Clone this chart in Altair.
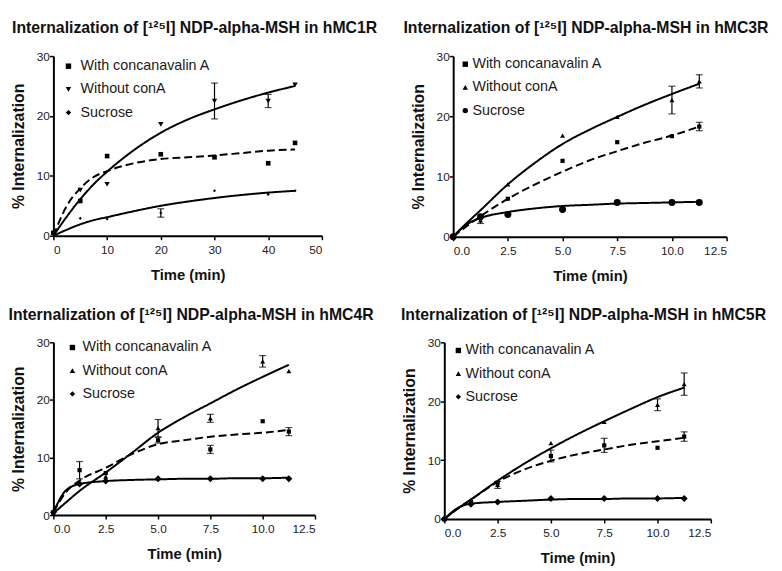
import altair as alt
import pandas as pd

SERIES = ["With concanavalin A", "Without conA", "Sucrose"]

# ---------------- Panel 1 : hMC1R ----------------
p1_title = "Internalization of [¹²⁵I] NDP-alpha-MSH in hMC1R"
p1_t = [0, 5, 10, 20, 30, 40, 45]
p1_con = [0.5, 5.8, 13.3, 13.6, 13.1, 12.1, 15.5]
p1_wo = [0.3, 7.6, 8.6, 18.6, 22.5, 22.5, 25.2]
p1_suc = [0.2, 2.9, 2.8, 3.8, 7.5, 6.9, 7.5]
p1_con_err = [0, 0, 0, 0, 0, 0, 0]
p1_wo_err = [0, 0, 0, 0, 3.0, 1.1, 0]
p1_suc_err = [0, 0, 0, 0.7, 0, 0, 0]
p1_cx = [0, 2.5, 5, 7.5, 10, 15, 20, 25, 30, 35, 40, 45]
p1_ccon = [0, 5.0, 7.9, 9.8, 10.8, 12.1, 12.8, 13.1, 13.4, 13.8, 14.2, 14.4]
p1_cwo = [0, 3.2, 6.1, 8.6, 10.7, 14.3, 17.2, 19.4, 21.1, 22.6, 23.9, 25.0]
p1_csuc = [0, 1.0, 1.9, 2.6, 3.1, 4.1, 5.0, 5.7, 6.3, 6.8, 7.2, 7.5]

# ---------------- Panel 2 : hMC3R ----------------
p2_title = "Internalization of [¹²⁵I] NDP-alpha-MSH in hMC3R"
p2_t = [0, 1.25, 2.5, 5, 7.5, 10, 11.25]
p2_con = [0, 3.3, 6.3, 12.6, 15.7, 16.7, 18.3]
p2_wo = [0, 2.7, 8.7, 16.8, 19.9, 22.7, 25.8]
p2_suc = [0, 3.3, 3.7, 4.5, 5.7, 5.7, 5.7]
p2_con_err = [0, 0, 0, 0, 0, 0, 0.7]
p2_wo_err = [0, 0.5, 0, 0, 0, 2.3, 1.1]
p2_suc_err = [0, 0, 0, 0, 0, 0, 0]
p2_cx = [0, 0.6, 1.25, 2.5, 3.75, 5, 6.25, 7.5, 8.75, 10, 11.25]
p2_ccon = [0, 1.7, 3.4, 6.3, 8.7, 10.8, 12.7, 14.2, 15.6, 16.8, 18.3]
p2_cwo = [0, 2.2, 4.4, 8.7, 12.3, 15.4, 17.8, 19.9, 21.9, 23.7, 25.4]
p2_csuc = [0, 2.0, 3.1, 4.1, 4.7, 5.1, 5.3, 5.5, 5.6, 5.7, 5.8]

# ---------------- Panel 3 : hMC4R ----------------
p3_title = "Internalization of [¹²⁵I] NDP-alpha-MSH in hMC4R"
p3_t = [0, 1.25, 2.5, 5, 7.5, 10, 11.25]
p3_con = [0.5, 7.8, 7.3, 13.0, 11.4, 16.3, 14.5]
p3_wo = [0.3, 5.6, 6.7, 15.1, 16.8, 26.7, 25.0]
p3_suc = [0.5, 5.4, 5.9, 6.3, 6.3, 6.3, 6.3]
p3_con_err = [0, 1.5, 0, 0.5, 0.7, 0, 0.7]
p3_wo_err = [0, 0, 0, 1.5, 0.7, 1.0, 0]
p3_suc_err = [0, 0, 0, 0, 0, 0, 0]
p3_cx = [0, 0.6, 1.25, 2.5, 3.75, 5, 6.25, 7.5, 8.75, 10, 11.25]
p3_ccon = [0.5, 4.0, 6.0, 8.2, 10.6, 12.3, 13.0, 13.6, 14.0, 14.3, 14.8]
p3_cwo = [0.3, 2.2, 4.2, 7.4, 10.8, 14.3, 17.0, 19.4, 21.8, 24.0, 26.1]
p3_csuc = [0.5, 4.3, 5.4, 5.9, 6.1, 6.2, 6.3, 6.3, 6.4, 6.4, 6.5]

# ---------------- Panel 4 : hMC5R ----------------
p4_title = "Internalization of [¹²⁵I] NDP-alpha-MSH in hMC5R"
p4_t = [0, 1.25, 2.5, 5, 7.5, 10, 11.25]
p4_con = [0, 2.9, 6.1, 10.7, 12.5, 12.1, 14.0]
p4_wo = [0, 3.3, 5.8, 12.9, 16.5, 19.4, 22.9]
p4_suc = [0, 2.5, 2.9, 3.5, 3.5, 3.5, 3.5]
p4_con_err = [0, 0, 0, 1.0, 1.2, 0, 0.8]
p4_wo_err = [0, 0, 0.6, 0, 0, 1.0, 1.9]
p4_suc_err = [0, 0, 0, 0, 0, 0, 0]
p4_cx = [0, 0.6, 1.25, 2.5, 3.75, 5, 6.25, 7.5, 8.75, 10, 11.25]
p4_ccon = [0, 1.7, 3.3, 6.3, 8.4, 9.9, 11.0, 11.8, 12.6, 13.2, 13.8]
p4_cwo = [0, 1.7, 3.3, 6.5, 9.4, 12.0, 14.4, 16.6, 18.7, 20.7, 22.3]
p4_csuc = [0, 1.8, 2.6, 2.9, 3.1, 3.3, 3.4, 3.4, 3.5, 3.5, 3.6]

Y_TICKS = [0, 10, 20, 30]
X_TICKS_A = [0, 10, 20, 30, 40, 50]
X_TICKS_B = [0, 2.5, 5, 7.5, 10, 12.5]

FONT = "Liberation Sans"


def make_panel(title, t, con, wo, suc, con_err, wo_err, suc_err,
               cx, ccon, cwo, csuc, xmax, xticks, xfmt, shapes, sizes, w, h, tdx, lx, ly, loff):
    rows = []
    for s, vals, errs in zip(SERIES, [con, wo, suc], [con_err, wo_err, suc_err]):
        for ti, v, e in zip(t, vals, errs):
            rows.append({"t": ti, "v": v, "series": s, "lo": v - e, "hi": v + e, "err": e})
    pts = pd.DataFrame(rows)
    err = pts[pts["err"] > 0]

    crow = []
    for s, vals in zip(SERIES, [ccon, cwo, csuc]):
        for xi, v in zip(cx, vals):
            crow.append({"t": xi, "v": v, "curve": s})
    curves = pd.DataFrame(crow)

    xs = alt.Scale(domain=[0, xmax], nice=False, zero=True)
    ys = alt.Scale(domain=[0, 30], nice=False)
    xaxis = alt.Axis(values=xticks, format=xfmt, title="Time (min)")
    yaxis = alt.Axis(values=Y_TICKS, title="% Internalization")

    X = alt.X("t:Q", scale=xs, axis=xaxis)
    Y = alt.Y("v:Q", scale=ys, axis=yaxis)

    lines = alt.Chart(curves).mark_line(color="black", strokeWidth=2, interpolate="monotone").encode(
        x=X, y=Y, detail="curve:N",
        strokeDash=alt.StrokeDash("curve:N", scale=alt.Scale(domain=SERIES, range=[[8, 4], [1, 0], [1, 0]]), legend=None),
    )
    bars = alt.Chart(err).mark_rule(color="black", strokeWidth=1.2).encode(
        x=X, y=alt.Y("lo:Q", scale=ys, axis=yaxis), y2="hi:Q")
    cap_lo = alt.Chart(err).mark_tick(color="black", orient="horizontal", size=7, thickness=1.2).encode(
        x=X, y=alt.Y("lo:Q", scale=ys, axis=yaxis))
    cap_hi = alt.Chart(err).mark_tick(color="black", orient="horizontal", size=7, thickness=1.2).encode(
        x=X, y=alt.Y("hi:Q", scale=ys, axis=yaxis))

    legend = alt.Legend(orient="none", legendX=lx, legendY=ly, title=None, padding=0,
                        labelFontSize=14.5, labelFont=FONT, labelColor="#1a1a1a",
                        symbolFillColor="black", symbolStrokeColor="black",
                        symbolSize=30, rowPadding=8.5, labelOffset=loff, labelLimit=400)
    shape_scale = alt.Scale(domain=SERIES, range=shapes)
    point_layers = []
    for s, sz in zip(SERIES, sizes):
        point_layers.append(
            alt.Chart(pts[pts["series"] == s]).mark_point(filled=True, color="black", opacity=1, size=sz).encode(
                x=X, y=Y, shape=alt.Shape("series:N", scale=shape_scale, legend=legend)))
    return alt.layer(lines, bars, cap_lo, cap_hi, *point_layers).resolve_legend(shape="shared").properties(
        width=w, height=h,
        title=alt.TitleParams(title, fontSize=16, font=FONT, fontWeight="bold", offset=14, color="#111", dx=tdx),
    )


P1 = make_panel(p1_title, p1_t, p1_con, p1_wo, p1_suc, p1_con_err, p1_wo_err, p1_suc_err,
                p1_cx, p1_ccon, p1_cwo, p1_csuc, 50, X_TICKS_A, "d",
                ["square", "triangle-down", "diamond"], [22, 30, 10], 272, 182, 7, 8, 3, 5)
P2 = make_panel(p2_title, p2_t, p2_con, p2_wo, p2_suc, p2_con_err, p2_wo_err, p2_suc_err,
                p2_cx, p2_ccon, p2_cwo, p2_csuc, 12.5, X_TICKS_B, ".1f",
                ["square", "triangle-up", "circle"], [18, 25, 50], 277, 183, -4, 5, 1, 0)
P3 = make_panel(p3_title, p3_t, p3_con, p3_wo, p3_suc, p3_con_err, p3_wo_err, p3_suc_err,
                p3_cx, p3_ccon, p3_cwo, p3_csuc, 12.5, X_TICKS_B, ".1f",
                ["square", "triangle-up", "diamond"], [18, 25, 50], 265, 175, 7, 12, -2, 3)
P4 = make_panel(p4_title, p4_t, p4_con, p4_wo, p4_suc, p4_con_err, p4_wo_err, p4_suc_err,
                p4_cx, p4_ccon, p4_cwo, p4_csuc, 12.5, X_TICKS_B, ".1f",
                ["square", "triangle-up", "diamond"], [18, 25, 50], 270, 179, 6, 7, 1, 0)

row1 = alt.hconcat(P1, P2, spacing=133, bounds="flush").resolve_scale(shape="independent").resolve_legend(shape="independent")
row2 = alt.hconcat(P3, P4, spacing=131, bounds="flush").resolve_scale(shape="independent").resolve_legend(shape="independent")

chart = alt.vconcat(row1, row2, spacing=24).resolve_scale(
    shape="independent", strokeDash="independent"
).resolve_legend(shape="independent").properties(
    padding={"left": 0, "top": 9, "right": 5, "bottom": 5},
    background="white",
).configure_view(stroke=None).configure_axis(
    grid=False, domainColor="black", domainWidth=2, tickColor="black", tickWidth=1.5, tickSize=4,
    labelFont=FONT, labelFontSize=12, labelColor="#222", labelPadding=0,
    titleFont=FONT, titleFontSize=15, titleFontWeight="bold", titleColor="#111",
).configure_axisY(titlePadding=10, titleFontSize=16).configure_axisX(titlePadding=12, labelPadding=5)

chart.save("out.html", embed_options={"renderer": "svg", "actions": False})
